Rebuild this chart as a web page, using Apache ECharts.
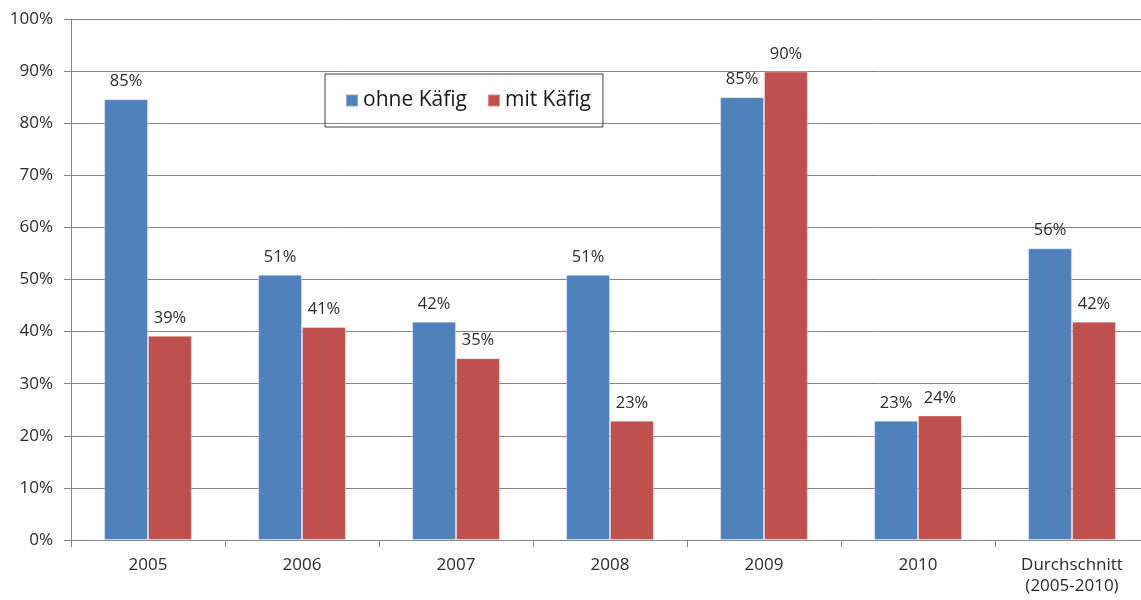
<!DOCTYPE html>
<html>
<head>
<meta charset="utf-8">
<script src="https://cdn.jsdelivr.net/npm/echarts@6/dist/echarts.min.js"></script>
<style>
  html, body { margin: 0; padding: 0; background: #fff; overflow: hidden; }
  #chart { width: 1160px; height: 600px; }
</style>
</head>
<body>
<div id="chart"></div>
<script>
const categories = ['2005', '2006', '2007', '2008', '2009', '2010', 'Durchschnitt\n(2005-2010)'];
const ohneKaefig = [84.6, 50.9, 41.9, 50.9, 85.0, 22.9, 56.0];
const mitKaefig = [39.2, 40.9, 34.9, 22.9, 89.9, 23.9, 41.9];
const yTicks = [0, 10, 20, 30, 40, 50, 60, 70, 80, 90, 100];

const font = '"Open Sans", sans-serif';
const chart = echarts.init(document.getElementById('chart'));

function barSeries(name, data, color) {
  return {
    name,
    type: 'bar',
    data,
    barGap: '0%',
    barCategoryGap: '43%',
    itemStyle: { color, borderColor: 'rgba(255,255,255,0.35)', borderWidth: 1 },
    label: {
      show: true,
      position: 'top',
      distance: 9,
      fontFamily: font,
      fontSize: 16.5,
      color: '#2b2b2b',
      formatter: p => Math.round(p.value) + '%'
    }
  };
}

chart.setOption({
  animation: false,
  backgroundColor: '#fff',
  grid: { left: 71, top: 19, right: 11, bottom: 60, containLabel: false },
  legend: {
    left: 325,
    top: 74,
    orient: 'horizontal',
    itemWidth: 12,
    itemHeight: 12,
    itemGap: 20,
    padding: [16, 12, 16, 20],
    borderColor: '#404040',
    borderWidth: 1,
    icon: 'rect',
    textStyle: { fontFamily: font, fontSize: 21, color: '#1a1a1a' },
    data: ['ohne Käfig', 'mit Käfig']
  },
  xAxis: {
    type: 'category',
    data: categories,
    axisLine: { lineStyle: { color: '#868686' } },
    axisTick: { show: true, length: 7, lineStyle: { color: '#868686' } },
    axisLabel: { margin: 15, fontFamily: font, fontSize: 17, color: '#2b2b2b', lineHeight: 21 }
  },
  yAxis: {
    type: 'value',
    min: yTicks[0],
    max: yTicks[yTicks.length - 1],
    interval: 10,
    axisLine: { show: true, lineStyle: { color: '#868686' } },
    axisTick: { show: true, length: 7, lineStyle: { color: '#868686' } },
    splitLine: { lineStyle: { color: '#868686', width: 1 } },
    axisLabel: { margin: 18, fontFamily: font, fontSize: 17, color: '#2b2b2b', formatter: v => v + '%' }
  },
  series: [
    barSeries('ohne Käfig', ohneKaefig, '#4F81BD'),
    barSeries('mit Käfig', mitKaefig, '#C0504D')
  ]
});
</script>
</body>
</html>
